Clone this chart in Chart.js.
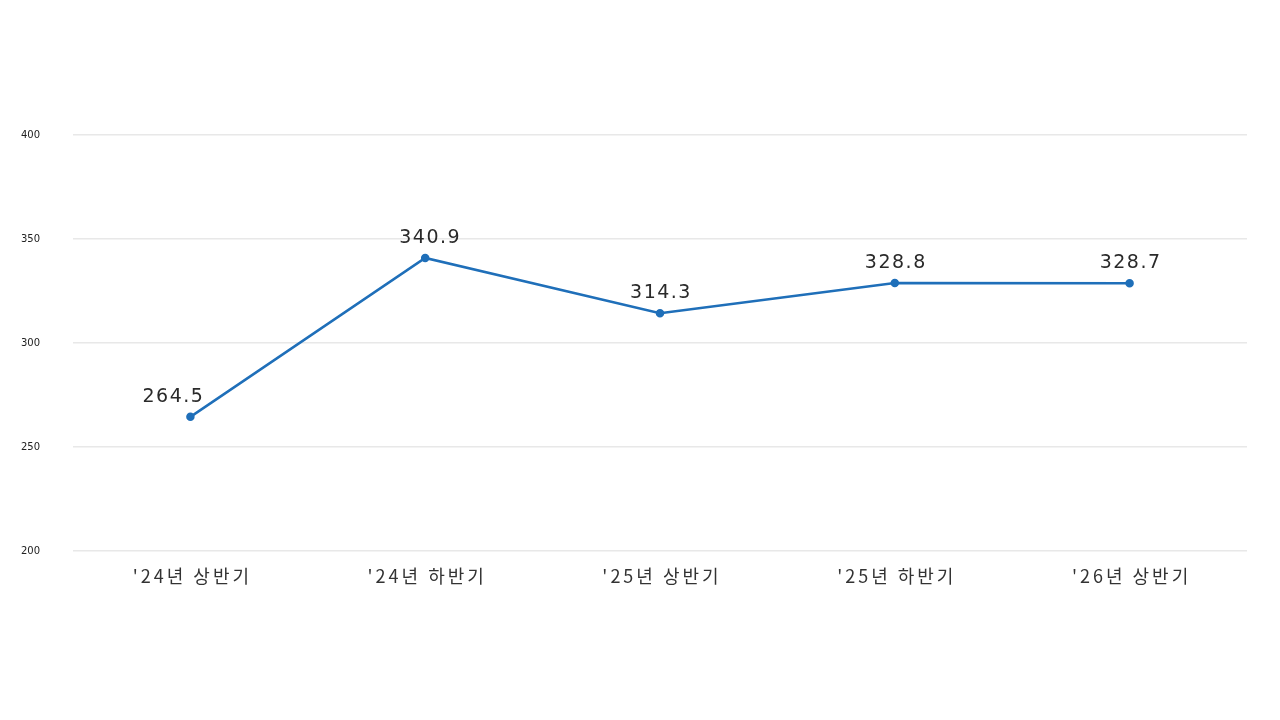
<!DOCTYPE html>
<html>
<head>
<meta charset="utf-8">
<script src="https://cdn.jsdelivr.net/npm/chart.js@4/dist/chart.umd.min.js"></script>
<style>
  html, body { margin: 0; padding: 0; background: #fff; }
  #wrap { width: 1280px; height: 720px; }
</style>
</head>
<body>
<div id="wrap"><canvas id="myChart" width="1280" height="720"></canvas></div>
<script>
// 데이터
var labels = ["'24년 상반기", "'24년 하반기", "'25년 상반기", "'25년 하반기", "'26년 상반기"];
var values = [264.5, 340.9, 314.3, 328.8, 328.7];
var yTicks = [200, 250, 300, 350, 400];

// 값 라벨 + x축 라벨 (자간 때문에 직접 그림)
var textLayer = {
    id: 'textLayer',
    afterDatasetsDraw: function (chart) {
        var ctx = chart.ctx;
        var meta = chart.getDatasetMeta(0);
        var xScale = chart.scales.x;
        ctx.save();
        ctx.textAlign = "center";
        ctx.textBaseline = "middle";

        ctx.font = "19px 'DejaVu Sans', sans-serif";
        ctx.letterSpacing = "1.5px";
        ctx.fillStyle = "#2a2a2a";
        meta.data.forEach(function (pt, i) {
            var dx = i === 0 ? -18 : (i === 1 ? 4 : 0);
            ctx.fillText(values[i].toFixed(1), pt.x + dx + 1, pt.y - 20);
        });

        ctx.font = "18px 'Noto Sans CJK KR', sans-serif";
        ctx.letterSpacing = "3px";
        ctx.fillStyle = "#333";
        labels.forEach(function (lb, i) {
            ctx.fillText(lb, xScale.getPixelForValue(i) + 2, chart.chartArea.bottom + 25);
        });
        ctx.restore();
    }
};

var ctx = document.getElementById("myChart").getContext("2d");
var myLineChart = new Chart(ctx, {
    type: 'line',
    data: {
        labels: labels,
        datasets: [{
            data: values,
            borderColor: "#1f6fb9",
            backgroundColor: "#1f6fb9",
            borderWidth: 2.5,
            pointRadius: 3,
            pointHoverRadius: 3,
            tension: 0,
            fill: false
        }]
    },
    options: {
        responsive: false,
        animation: false,
        layout: { padding: { top: 135, right: 33, left: 0, bottom: 0 } },
        plugins: {
            legend: { display: false },
            tooltip: { enabled: false }
        },
        scales: {
            x: {
                offset: true,
                grid: { display: false, drawTicks: false },
                border: { display: false },
                ticks: { display: false },
                afterFit: function (scale) { scale.height = 169; }
            },
            y: {
                min: 200,
                max: 400,
                afterBuildTicks: function (scale) {
                    scale.ticks = yTicks.map(function (v) { return { value: v }; });
                },
                grid: { color: "#e8e8e8", lineWidth: 1.5, drawTicks: false },
                border: { display: false },
                ticks: {
                    padding: 33,
                    color: "#222",
                    font: { size: 10, family: "'DejaVu Sans', sans-serif" }
                },
                afterFit: function (scale) { scale.width = 73; }
            }
        }
    },
    plugins: [textLayer]
});
</script>
</body>
</html>
